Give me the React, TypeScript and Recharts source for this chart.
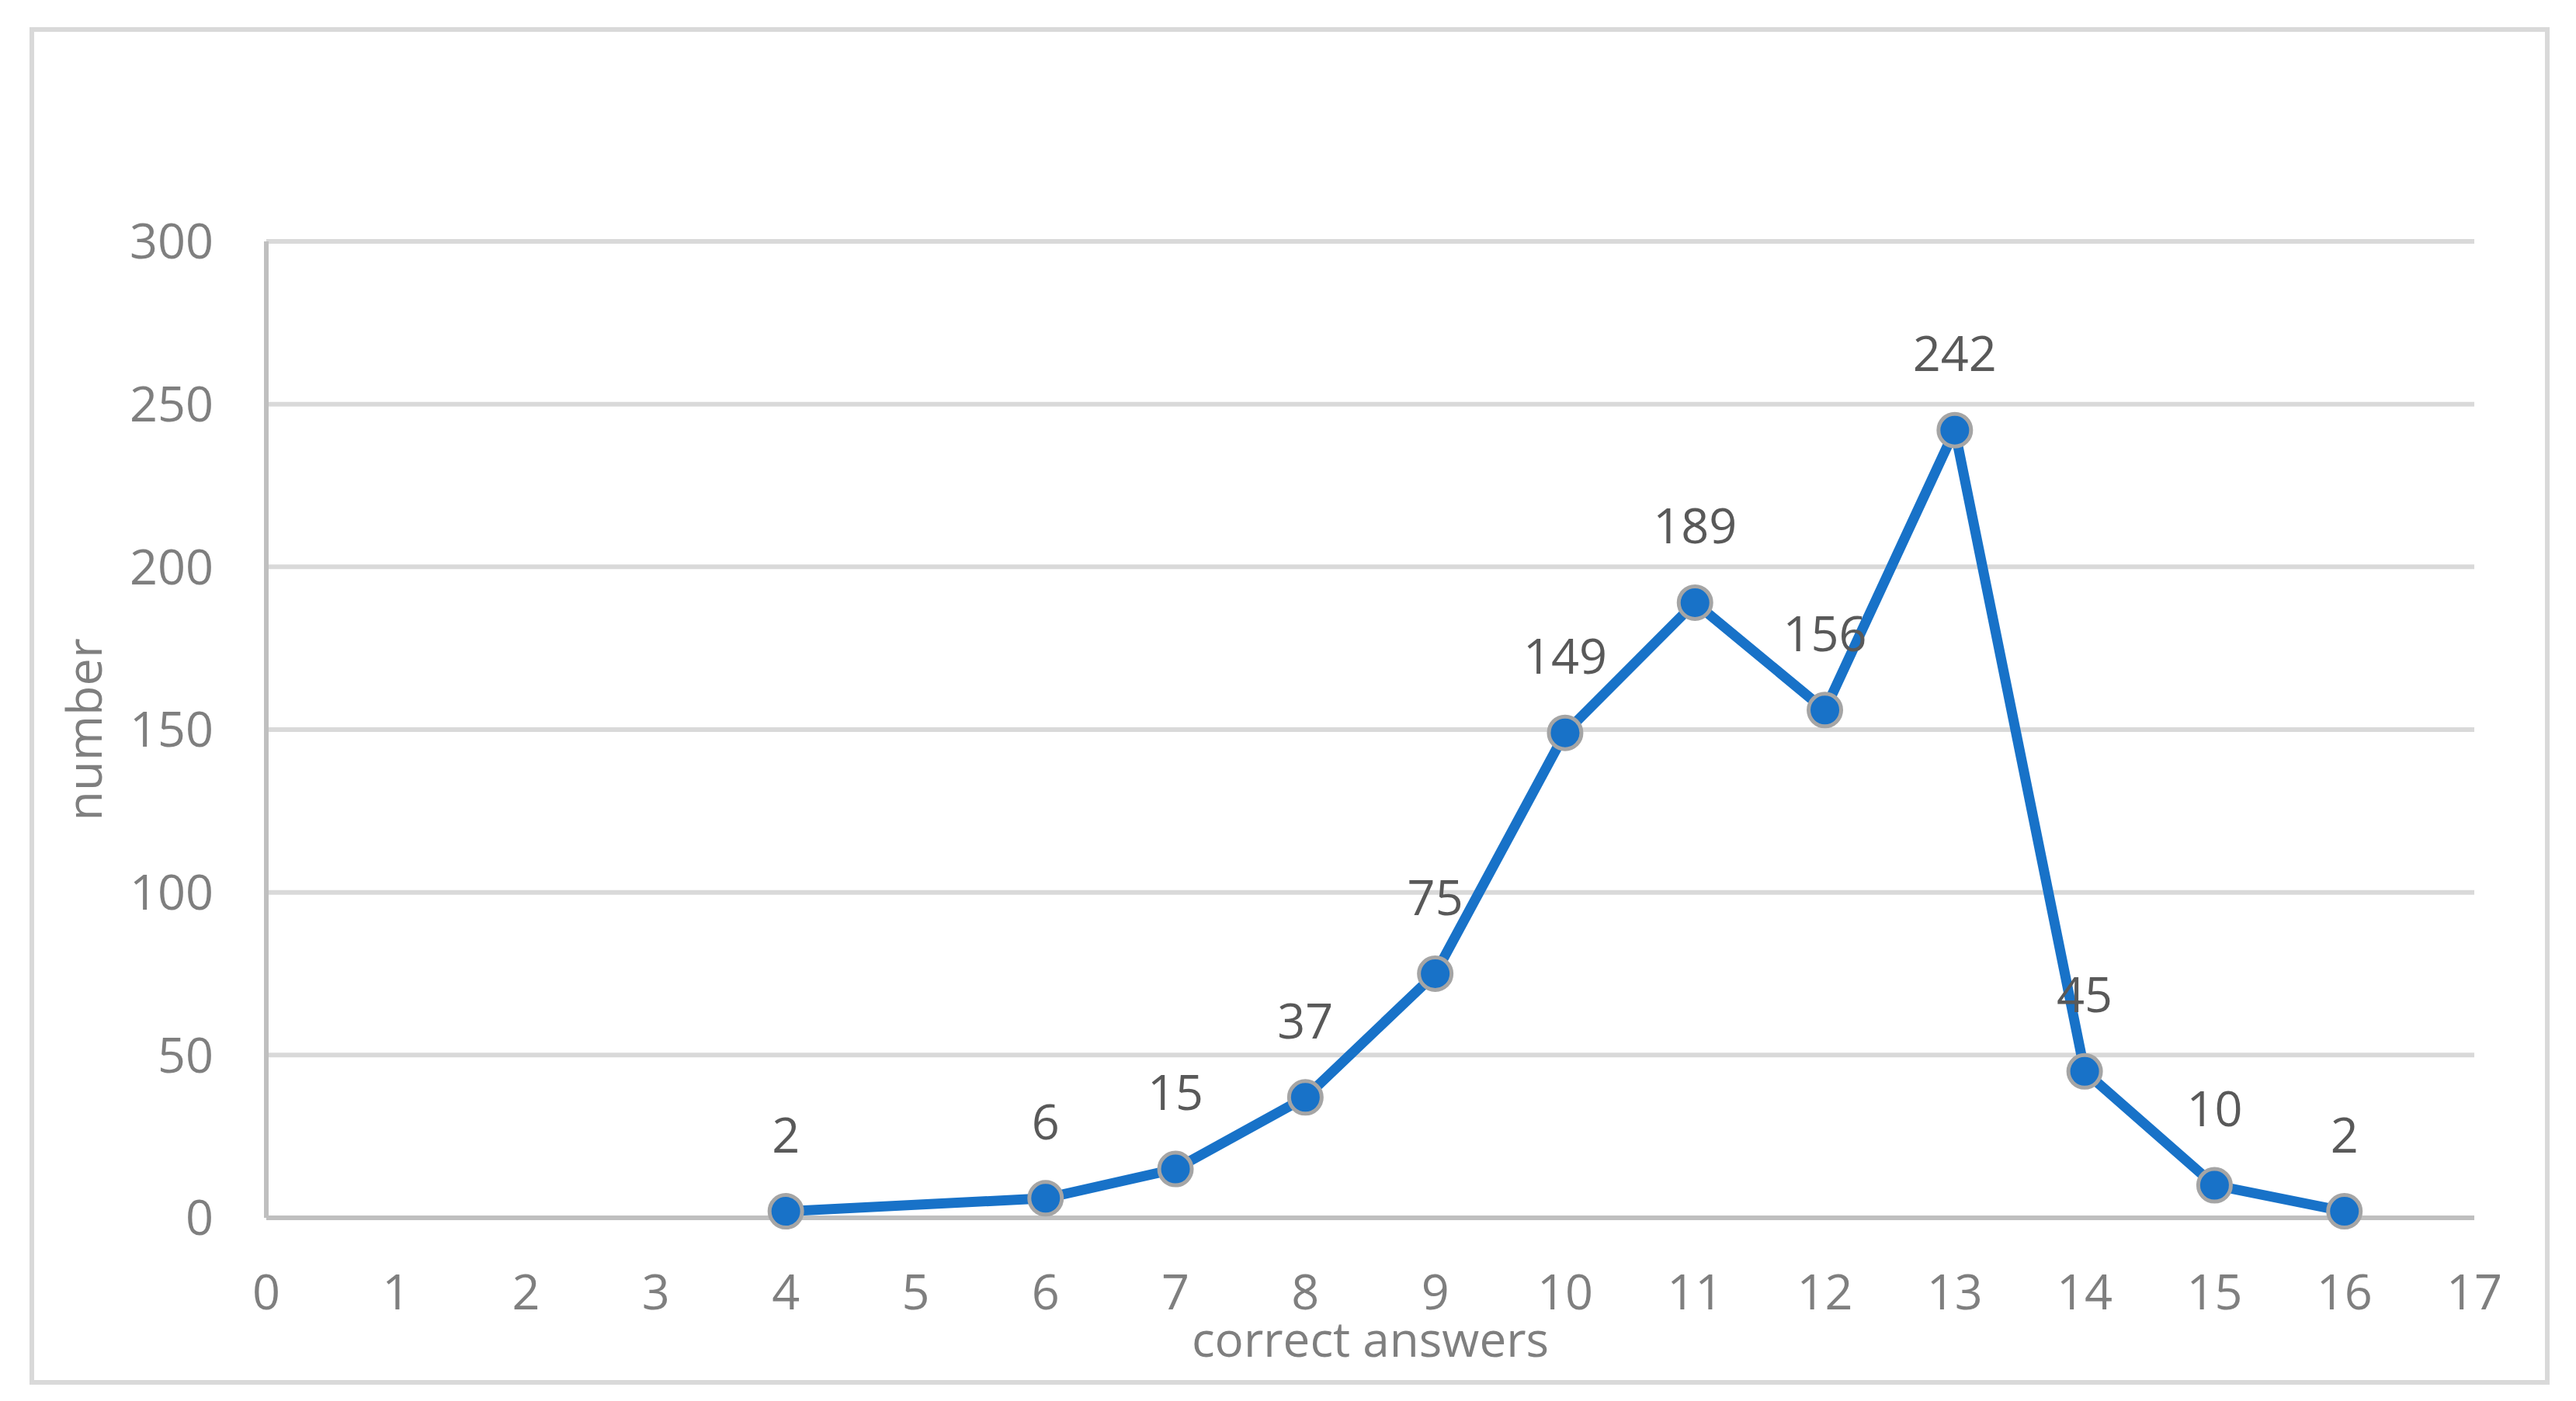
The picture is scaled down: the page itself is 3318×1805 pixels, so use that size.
import { LineChart, Line, XAxis, YAxis, CartesianGrid, LabelList } from 'recharts';

const correctAnswers = [4, 6, 7, 8, 9, 10, 11, 12, 13, 14, 15, 16];
const counts = [2, 6, 15, 37, 75, 149, 189, 156, 242, 45, 10, 2];
const xTicks = [0, 1, 2, 3, 4, 5, 6, 7, 8, 9, 10, 11, 12, 13, 14, 15, 16, 17];
const yTicks = [0, 50, 100, 150, 200, 250, 300];

const data = correctAnswers.map((x, i) => ({ x, n: counts[i] }));

const FONT = '"Open Sans", sans-serif';
const TICK = { fontSize: 63, fill: '#7f7f7f', fontFamily: FONT };

export default function App() {
  return (
    <div style={{ position: 'absolute', left: 0, top: 0, width: 3318, height: 1805, background: '#fff' }}>
      <div
        style={{
          position: 'absolute',
          left: 38,
          top: 35,
          width: 3246,
          height: 1749,
          boxSizing: 'border-box',
          border: '6px solid #d9d9d9',
        }}
      />
      <LineChart
        width={3318}
        height={1805}
        data={data}
        margin={{ top: 311, right: 131, left: 0, bottom: 0 }}
        style={{ position: 'absolute', left: 0, top: 0 }}
      >
        <CartesianGrid vertical={false} stroke="#d9d9d9" strokeWidth={6} />
        <XAxis
          dataKey="x"
          type="number"
          domain={[0, 17]}
          ticks={xTicks}
          interval={0}
          height={236}
          tickSize={0}
          tickMargin={73}
          axisLine={{ stroke: '#bfbfbf', strokeWidth: 6 }}
          tickLine={false}
          tick={TICK}
          label={(props: any) => {
            const vb = props.viewBox;
            return (
              <text x={vb.x + vb.width / 2} y={vb.y + 179} textAnchor="middle" fill="#7f7f7f" fontSize={62} fontFamily={FONT}>
                correct answers
              </text>
            );
          }}
        />
        <YAxis
          type="number"
          domain={[0, 300]}
          ticks={yTicks}
          width={343}
          tickSize={0}
          tickMargin={68}
          axisLine={{ stroke: '#bfbfbf', strokeWidth: 6 }}
          tickLine={false}
          tick={TICK}
          label={(props: any) => {
            const vb = props.viewBox;
            const cx = vb.x + 106;
            const cy = vb.y + vb.height / 2;
            return (
              <text
                x={cx}
                y={cy}
                transform={`rotate(-90 ${cx} ${cy})`}
                textAnchor="middle"
                dominantBaseline="central"
                fill="#7f7f7f"
                fontSize={63}
                fontFamily={FONT}
              >
                number
              </text>
            );
          }}
        />
        <Line
          dataKey="n"
          stroke="#1872c8"
          strokeWidth={13}
          isAnimationActive={false}
          dot={{ r: 21, fill: '#1872c8', stroke: '#a5a5a5', strokeWidth: 5 }}
          activeDot={false}
        >
          <LabelList dataKey="n" position="top" offset={76} fill="#595959" fontSize={63} fontFamily={FONT} />
        </Line>
      </LineChart>
    </div>
  );
}
